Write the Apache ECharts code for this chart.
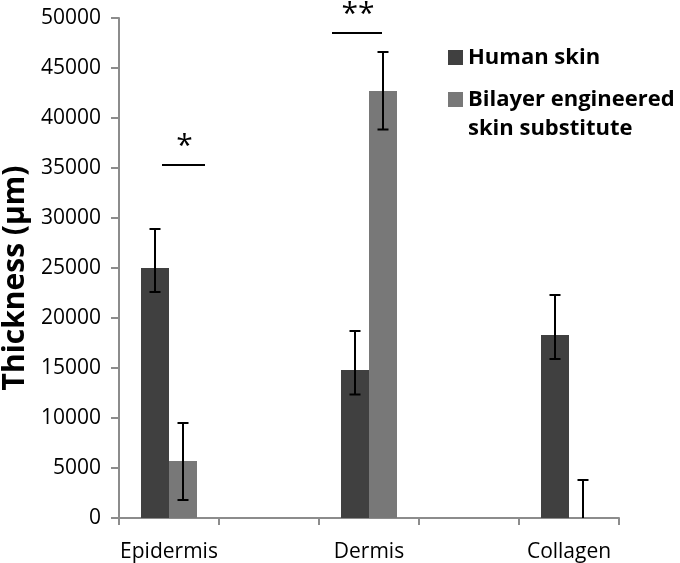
<!DOCTYPE html>
<html>
<head>
<meta charset="utf-8">
<script src="https://cdn.jsdelivr.net/npm/echarts@6/dist/echarts.min.js"></script>
<style>
html,body{margin:0;padding:0;background:#fff;}
#chart{width:680px;height:563px;}
</style>
</head>
<body>
<div id="chart"></div>
<script>
// Categories (blank slots between groups as in the original axis)
var categories = ['Epidermis', '', 'Dermis', '', 'Collagen'];
var seriesNames = ['Human skin', 'Bilayer engineered\nskin substitute'];
// Means
var humanSkin = [25000, null, 14800, null, 18300];
var bilayer = [5700, null, 42700, null, 0];
// Error bar extents [low, high]
var humanErr = [[22600, 28900], null, [12350, 18700], null, [15900, 22300]];
var bilayerErr = [[1800, 9500], null, [38850, 46600], null, [-3800, 3800]];
// Significance annotations: category, y level, marker
var sigCats = ['Epidermis', 'Dermis'];
var sigLevels = [35300, 48500];
var sigMarks = ['*', '**'];
var yTicks = {min: 0, max: 50000, interval: 5000};

var FONT = 'Open Sans';
var chart = echarts.init(document.getElementById('chart'));

function errData(errs, side) {
  var out = [];
  errs.forEach(function (e, i) {
    if (e) out.push([i, e[0], e[1], side]);
  });
  return out;
}

function errRender(params, api) {
  var idx = api.value(0);
  var lo = api.value(1), hi = api.value(2), side = api.value(3);
  var band = api.size([1, 0])[0];
  var c = api.coord([idx, 0]);
  var x = Math.round(c[0] + side * band * 0.14);
  var loC = Math.max(lo, 0);
  var pTop = api.coord([idx, hi]);
  var pBot = api.coord([idx, loC]);
  var half = 5.5;
  var children = [
    {type: 'line', shape: {x1: x, y1: pTop[1], x2: x, y2: pBot[1]}, style: {stroke: '#000', lineWidth: 2}},
    {type: 'line', shape: {x1: x - half, y1: pTop[1], x2: x + half, y2: pTop[1]}, style: {stroke: '#000', lineWidth: 2}}
  ];
  if (lo >= 0) {
    children.push({type: 'line', shape: {x1: x - half, y1: pBot[1], x2: x + half, y2: pBot[1]}, style: {stroke: '#000', lineWidth: 2}});
  }
  return {type: 'group', children: children};
}

var sigOffsets = [[-0.07, 0.36], [-0.37, 0.13]];
var sigData = sigCats.map(function (c, i) {
  return [categories.indexOf(c), sigLevels[i], i];
});

function sigRender(params, api) {
  var idx = api.value(0), y = api.value(1), k = api.value(2);
  var band = api.size([1, 0])[0];
  var c = api.coord([idx, y]);
  var x1 = c[0] + sigOffsets[k][0] * band;
  var x2 = c[0] + sigOffsets[k][1] * band;
  return {
    type: 'group',
    children: [
      {type: 'line', shape: {x1: x1, y1: c[1], x2: x2, y2: c[1]}, style: {stroke: '#000', lineWidth: 2}},
      {type: 'text', style: {text: sigMarks[k], x: (x1 + x2) / 2 + 1, y: c[1] - 4, align: 'center', verticalAlign: 'bottom',
        font: '30px "' + FONT + '"', fill: '#000'}}
    ]
  };
}

chart.setOption({
  animation: false,
  backgroundColor: '#fff',
  grid: {left: 119, right: 61, top: 18, bottom: 45, containLabel: false, outerBoundsMode: 'none'},
  legend: {
    orient: 'vertical',
    left: 443,
    top: 38,
    itemGap: -16,
    itemWidth: 15,
    itemHeight: 15,
    selectedMode: false,
    icon: 'rect',
    formatter: function (name) { return name === seriesNames[1] ? '\n' + name : name; },
    textStyle: {fontFamily: FONT, fontSize: 22, fontWeight: 'bold', color: '#000', lineHeight: 29},
    data: seriesNames
  },
  xAxis: {
    type: 'category',
    data: categories,
    axisLine: {lineStyle: {color: '#8c8c8c', width: 2}},
    axisTick: {show: true, length: 7, interval: 0, lineStyle: {color: '#8c8c8c', width: 2}},
    axisLabel: {fontFamily: FONT, fontSize: 21, color: '#000', margin: 24, interval: 0}
  },
  yAxis: {
    type: 'value',
    min: yTicks.min, max: yTicks.max, interval: yTicks.interval,
    name: 'Thickness (µm)',
    nameLocation: 'middle',
    nameGap: 85,
    nameTextStyle: {fontFamily: FONT, fontSize: 30, fontWeight: 'bold', color: '#000', padding: [0, 20, 0, 0]},
    splitLine: {show: false},
    axisLine: {show: true, lineStyle: {color: '#8c8c8c', width: 2}},
    axisTick: {show: true, length: 8, lineStyle: {color: '#8c8c8c', width: 2}},
    axisLabel: {fontFamily: FONT, fontSize: 21, color: '#000', margin: 18,
      formatter: function (v) { return String(v); }}
  },
  series: [
    {name: seriesNames[0], type: 'bar', data: humanSkin, barWidth: '28%', barGap: '0%',
      itemStyle: {color: '#404040'}},
    {name: seriesNames[1], type: 'bar', data: bilayer, barWidth: '28%', barGap: '0%',
      itemStyle: {color: '#787878'}},
    {type: 'custom', renderItem: errRender, data: errData(humanErr, -1), z: 5, silent: true},
    {type: 'custom', renderItem: errRender, data: errData(bilayerErr, 1), z: 5, silent: true},
    {type: 'custom', renderItem: sigRender, data: sigData, z: 5, silent: true, clip: false}
  ]
});
</script>
</body>
</html>
